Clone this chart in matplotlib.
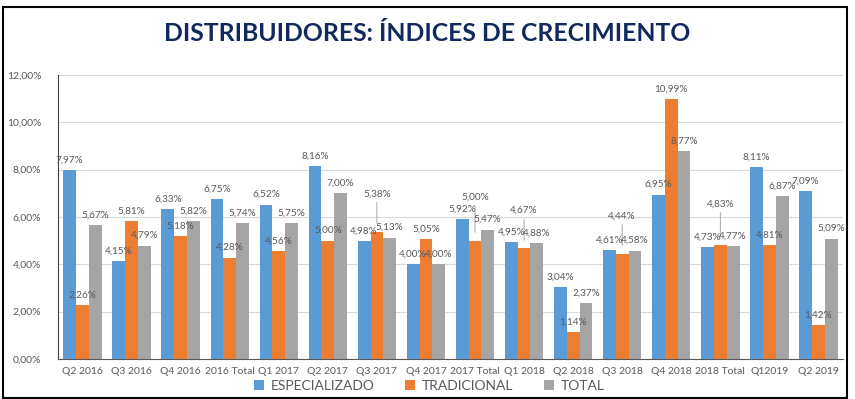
import numpy as np
import matplotlib
matplotlib.use('Agg')
import matplotlib.pyplot as plt
from matplotlib.patches import Rectangle

categories = ['Q2 2016', 'Q3 2016', 'Q4 2016', '2016 Total', 'Q1 2017', 'Q2 2017',
              'Q3 2017', 'Q4 2017', '2017 Total', 'Q1 2018', 'Q2 2018', 'Q3 2018',
              'Q4 2018', '2018 Total', 'Q12019', 'Q2 2019']
especializado = [7.97, 4.15, 6.33, 6.75, 6.52, 8.16, 4.98, 4.00,
                 5.92, 4.95, 3.04, 4.61, 6.95, 4.73, 8.11, 7.09]
tradicional = [2.26, 5.81, 5.18, 4.28, 4.56, 5.00, 5.38, 5.05,
               5.00, 4.67, 1.14, 4.44, 10.99, 4.83, 4.81, 1.42]
total = [5.67, 4.79, 5.82, 5.74, 5.75, 7.00, 5.13, 4.00,
         5.47, 4.88, 2.37, 4.58, 8.77, 4.77, 6.87, 5.09]
series_names = ['ESPECIALIZADO', 'TRADICIONAL', 'TOTAL']

COLORS = ['#5B9BD5', '#ED7D31', '#A5A5A5']
TXT = '#595959'
FONT = ['Lato', 'DejaVu Sans']

# etiquetas desplazadas hacia arriba con línea guía (índice de categoría en TRADICIONAL)
lifted = {6: 20, 8: 24, 9: 20, 11: 20, 13: 22}

plt.rcParams['font.family'] = FONT

fig = plt.figure(figsize=(8.55, 3.99), dpi=100)
ax = fig.add_axes([0.0678, 0.1003, 0.9182, 0.7117])

x = np.arange(len(categories))
w = 0.26
all_series = [especializado, tradicional, total]
for k, (vals, col) in enumerate(zip(all_series, COLORS)):
    pos = x + (k - 1) * w
    ax.bar(pos, vals, w, color=col, label=series_names[k], zorder=2)
    for i, (xp, v) in enumerate(zip(pos, vals)):
        lab = f'{v:.2f}%'.replace('.', ',')
        if k == 1 and i in lifted:
            dy = lifted[i]
            ax.annotate(lab, xy=(xp, v), xytext=(0, dy + 4), textcoords='offset points',
                        ha='center', va='bottom', fontsize=7.2, color=TXT,
                        arrowprops=dict(arrowstyle='-', color='#A6A6A6', lw=0.7,
                                        shrinkA=1, shrinkB=6))
        else:
            ax.annotate(lab, xy=(xp, v), xytext=(0, 4), textcoords='offset points',
                        ha='center', va='bottom', fontsize=7.2, color=TXT)

ax.set_xlim(-0.5, len(categories) - 0.5)
ax.set_ylim(0, 12)
ax.set_yticks(np.arange(0, 12.01, 2))
ax.set_yticklabels([f'{t:.2f}%'.replace('.', ',') for t in np.arange(0, 12.01, 2)])
ax.set_xticks(x)
ax.set_xticklabels(categories)
ax.tick_params(axis='both', length=0, labelsize=7.5, colors=TXT)
ax.tick_params(axis='x', pad=6)
ax.tick_params(axis='y', pad=12)
ax.grid(axis='y', color='#D9D9D9', linewidth=0.8, zorder=0)
ax.set_axisbelow(True)
for s in ['top', 'right']:
    ax.spines[s].set_visible(False)
ax.spines['left'].set_color('#404040')
ax.spines['bottom'].set_color('#595959')

fig.text(0.500, 0.917, 'DISTRIBUIDORES: ÍNDICES DE CRECIMIENTO', ha='center', va='center',
         fontsize=17.8, fontweight='bold', color='#12295E')

fig.legend(loc='center', bbox_to_anchor=(0.502, 0.033), ncol=3, frameon=False,
           fontsize=10, handlelength=0.7, handleheight=0.7, handletextpad=0.5,
           columnspacing=2.2, labelcolor=TXT)

fig.patches.append(Rectangle((0.0035, 0.0025), 0.987, 0.98, transform=fig.transFigure,
                             fill=False, edgecolor='black', linewidth=1.5))

fig.savefig('out.png', dpi=100)
